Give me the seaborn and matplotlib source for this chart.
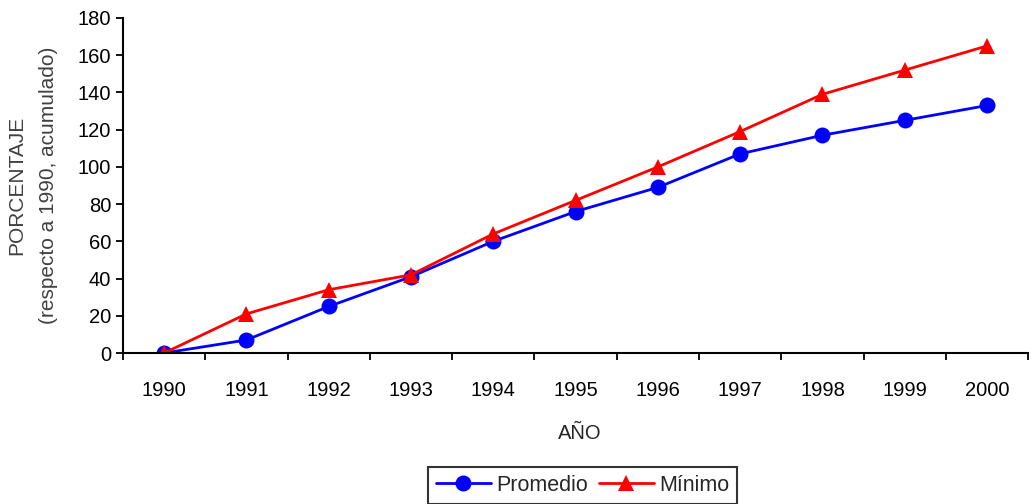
import matplotlib
matplotlib.use("Agg")
import matplotlib.pyplot as plt
from matplotlib.ticker import FixedLocator
import seaborn as sns
import pandas as pd
import numpy as np

years = ["1990", "1991", "1992", "1993", "1994", "1995",
         "1996", "1997", "1998", "1999", "2000"]
promedio = [0, 7, 25, 41, 60, 76, 89, 107, 117, 125, 133]
minimo = [0, 21, 34, 42, 64, 82, 100, 119, 139, 152, 165]
series_names = ["Promedio", "Mínimo"]

df = pd.DataFrame({
    "year": years * 2,
    "value": promedio + minimo,
    "serie": [series_names[0]] * len(years) + [series_names[1]] * len(years),
})

sns.set_theme(style="ticks")
plt.rcParams["font.family"] = ["Liberation Sans", "DejaVu Sans"]

FS = 14.5
colors = {"Promedio": "#0000ff", "Mínimo": "#ff0000"}
marker_sizes = {"Promedio": 11.5, "Mínimo": 12}

fig = plt.figure(figsize=(10.31, 5.04), dpi=100)
ax = fig.add_axes([0.1193, 0.2996, 0.878, 0.6647])

sns.lineplot(
    data=df, x="year", y="value", hue="serie", style="serie",
    markers={"Promedio": "o", "Mínimo": "^"}, dashes=False,
    palette=colors, linewidth=2.0, markersize=marker_sizes["Promedio"],
    markeredgewidth=0, ax=ax, legend=False,
)
# slightly larger triangles
for line in ax.get_lines():
    if line.get_marker() == "^":
        line.set_markersize(marker_sizes["Mínimo"])

ax.set_ylim(0, 180)
ax.set_xlim(-0.5, len(years) - 0.5)
ax.set_yticks(np.arange(0, 181, 20))
ax.tick_params(axis="y", labelsize=FS, length=5, width=1.3, colors="black", pad=3.5)
ax.set_xticks(range(len(years)))
ax.set_xticklabels(years)
ax.tick_params(axis="x", which="major", length=0, labelsize=FS, pad=20.5, colors="black")
ax.xaxis.set_minor_locator(FixedLocator(np.arange(-0.5, len(years), 1.0)))
ax.tick_params(axis="x", which="minor", length=5, width=1.3, color="black")

for side in ["top", "right"]:
    ax.spines[side].set_visible(False)
for side in ["left", "bottom"]:
    ax.spines[side].set_color("black")
    ax.spines[side].set_linewidth(1.5)

ax.set_xlabel("")
ax.set_ylabel("")
fig.text(0.5626, 0.139, "AÑO", ha="center", va="center", fontsize=FS)
fig.text(0.0165, 0.633, "PORCENTAJE", rotation=90, ha="center", va="center",
         fontsize=15, color="#404040")
fig.text(0.0466, 0.633, "(respecto a 1990, acumulado)", rotation=90,
         ha="center", va="center", fontsize=15, color="#404040")

handles = [
    plt.Line2D([], [], color=colors["Promedio"], marker="o",
               markersize=marker_sizes["Promedio"], markeredgewidth=0, linewidth=2.0),
    plt.Line2D([], [], color=colors["Mínimo"], marker="^",
               markersize=marker_sizes["Mínimo"], markeredgewidth=0, linewidth=2.0),
]
leg = fig.legend(handles, series_names, loc="center", ncol=2,
                 bbox_to_anchor=(0.565, 0.0367), frameon=True, fancybox=False,
                 fontsize=15.5, handlelength=2.55, handletextpad=0.25,
                 columnspacing=0.5, borderpad=0.35, borderaxespad=0)
leg.get_frame().set_edgecolor("black")
leg.get_frame().set_linewidth(1.5)

fig.savefig("out.png", dpi=100, facecolor="white")
